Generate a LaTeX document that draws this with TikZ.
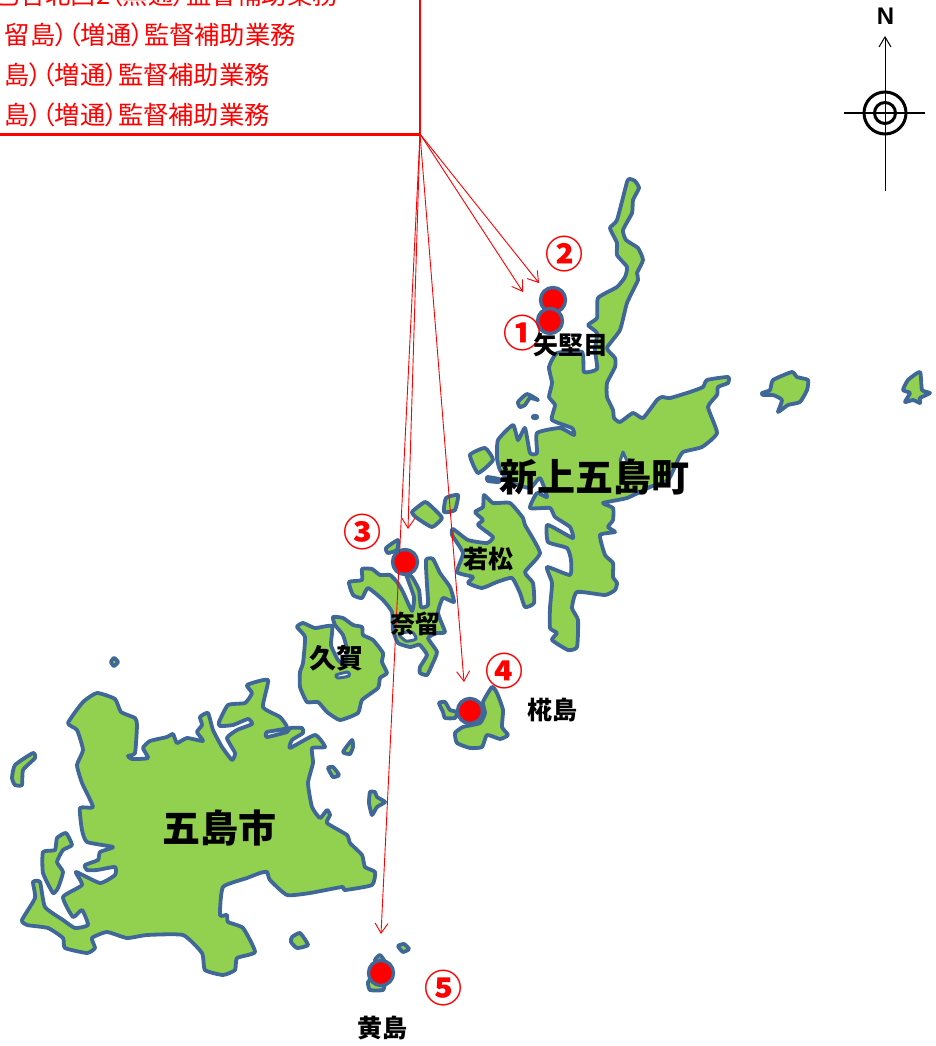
\documentclass[tikz,border=0pt]{standalone}
\usepackage{fontspec}
\usetikzlibrary{arrows.meta}
\setmainfont{Noto Sans CJK JP}
\newfontfamily\palfont[RawFeature=+palt]{Noto Sans CJK JP}
\newfontfamily\latinbold{Liberation Sans Bold}
\definecolor{land}{HTML}{92D050}
\definecolor{coast}{HTML}{3F6797}
\tikzset{
  island/.style={draw=coast,fill=land,line width=3.8pt,line join=round},
  lagoon/.style={draw=coast,fill=white,line width=3pt,line join=round},
  site/.style={circle,draw=coast,fill=red,line width=3.4pt,minimum size=25pt,inner sep=0pt},
  ptr/.style={draw=red,line width=0.9pt,-{Straight Barb[length=10pt,width=13pt]}},
  redline/.style={draw=red,line width=2.4pt},
  redtext/.style={text=red,font=\fontsize{25.3}{26}\palfont,anchor=base east,inner sep=0pt},
  place/.style={text=black,font=\fontsize{25}{26}\bfseries,inner sep=0pt},
  bigplace/.style={text=black,font=\fontsize{38}{40}\bfseries,inner sep=0pt},
  num/.style={text=red,font=\fontsize{38}{39}\bfseries,inner sep=0pt}
}
\newcommand{\isl}[1]{\path[island] plot[smooth cycle,tension=.3] coordinates {#1};}
\begin{document}
\begin{tikzpicture}[x=1pt,y=-1pt]
\useasboundingbox (0,0) rectangle (936,1046);
\clip (0,0) rectangle (936,1046);
% Shin-Kamigoto
\isl{(630,179)(635,181)(639,188)(633,200)(632,213)(623,230)(626,240)(638,248)(643,260)(637,273)(638,280)(627,303)(620,330)(607,348)(615,358)(615,367)(607,383)(607,397)(613,410)(614,418)(620,422)(633,413)(643,418)(657,400)(662,397)(670,398)(690,392)(703,387)(707,380)(728,377)(728,383)(718,387)(717,395)(708,407)(717,433)(702,447)(683,452)(677,462)(668,480)(650,487)(627,498)(603,503)(613,508)(613,520)(608,527)(615,532)(600,535)(605,555)(613,563)(613,577)(617,583)(615,590)(605,595)(577,592)(572,608)(578,620)(577,647)(568,650)(552,640)(557,633)(550,628)(550,608)(552,583)(547,567)(570,575)(571,560)(567,548)(548,542)(547,525)(558,530)(573,538)(570,527)(555,517)(550,508)(530,508)(537,493)(547,497)(540,478)(530,488)(510,482)(500,470)(497,458)(498,440)(513,425)(518,440)(525,428)(530,453)(537,453)(537,433)(560,428)(574,435)(572,428)(552,420)(555,405)(549,397)(552,383)(549,367)(557,353)(582,352)(584,372)(597,369)(595,350)(597,333)(588,325)(597,318)(598,298)(617,287)(625,277)(627,267)(617,255)(617,243)(610,228)(617,220)(627,182)}
\path[lagoon] (620,461) -- (623,452) -- (627,461);
\isl{(518,402)(527,394)(538,400)(530,398)(525,405)(520,407)}
\path[draw=coast,fill=coast] (535,417) ellipse (4 and 3);
\isl{(470,455)(485,448)(493,460)(478,473)}
\isl{(487,477)(499,479)(499,482)(488,481)}
% east islands
\isl{(762,393)(770,390)(773,380)(792,372)(797,377)(808,380)(807,390)(800,402)(788,405)(778,412)(782,400)(773,395)(763,395)}
\isl{(920,372)(922,390)(930,393)(920,398)(920,403)(913,400)(905,402)(910,393)(903,390)(908,380)}
% Wakamatsu
\isl{(484,495)(493,503)(510,503)(523,518)(525,525)(540,553)(525,572)(533,583)(534,603)(525,607)(520,593)(512,578)(497,582)(482,588)(468,583)(473,577)(457,572)(463,553)(452,535)(453,529)(468,540)(487,543)(493,537)(478,525)(483,520)(475,512)(483,507)}
\isl{(412,512)(425,502)(433,508)(442,518)(432,527)(417,518)}
\isl{(446,498)(458,495)(455,510)(444,512)}
\isl{(386,548)(398,540)(397,550)(388,553)}
% Naru
\isl{(349,582)(362,580)(362,569)(372,569)(380,575)(390,575)(397,582)(403,592)(412,611)(414,597)(406,574)(412,577)(419,590)(421,607)(428,605)(427,585)(426,560)(433,559)(440,573)(450,587)(454,602)(443,598)(438,613)(445,632)(437,633)(428,638)(437,652)(432,665)(427,675)(420,673)(420,667)(427,655)(420,645)(417,645)(410,647)(398,643)(393,630)(392,612)(383,600)(368,588)(362,598)(353,595)}
\path[lagoon] plot[smooth cycle,tension=.4] coordinates {(399,634)(412,632)(416,639)(406,641)};
% Kuga
\isl{(297,627)(303,623)(315,628)(332,626)(331,645)(338,660)(345,665)(347,650)(343,635)(335,625)(333,617)(343,618)(353,625)(362,627)(363,635)(373,640)(383,653)(382,662)(387,673)(380,678)(378,688)(362,700)(358,713)(340,720)(327,712)(318,702)(307,702)(300,687)(300,672)(303,663)(305,637)}
\path[lagoon] plot[smooth cycle,tension=.4] coordinates {(336,675)(348,672)(349,676)(338,678)};
% Kabashima
\isl{(439,703)(445,702)(450,710)(457,712)(455,718)(445,718)(443,712)}
\isl{(492,687)(497,693)(503,710)(502,727)(508,735)(500,739)(487,735)(482,747)(470,748)(457,743)(455,733)(463,727)(480,723)(485,713)(483,702)}
% Goto
\isl{(97,693)(115,699)(121,712)(135,718)(137,725)(135,753)(128,756)(132,759)(148,758)(143,748)(150,741)(167,737)(173,734)(177,743)(187,738)(203,741)(197,732)(202,725)(200,717)(208,713)(213,730)(222,747)(232,760)(235,753)(227,738)(237,730)(252,724)(248,719)(233,725)(220,726)(219,722)(228,705)(245,703)(252,693)(247,685)(268,680)(263,707)(280,717)(287,728)(267,732)(267,737)(287,732)(290,728)(302,728)(303,733)(292,740)(290,748)(315,735)(325,747)(312,748)(313,763)(308,783)(312,807)(320,818)(327,810)(330,815)(327,823)(347,835)(350,843)(362,855)(365,867)(375,872)(372,885)(345,890)(342,887)(310,893)(287,895)(270,880)(267,872)(260,873)(247,878)(223,887)(220,915)(227,915)(228,922)(243,928)(255,952)(237,958)(235,970)(223,975)(205,970)(202,953)(183,935)(147,935)(127,938)(107,932)(92,938)(95,948)(87,953)(65,948)(63,938)(48,928)(27,925)(22,920)(35,898)(33,882)(40,882)(45,907)(63,920)(75,928)(88,925)(82,910)(73,917)(63,897)(82,885)(76,872)(100,883)(115,875)(115,867)(97,870)(87,870)(85,865)(98,860)(100,852)(113,847)(87,842)(82,830)(80,808)(93,807)(82,783)(77,765)(83,750)(77,730)(68,723)(83,702)}
\isl{(43,852)(55,850)(57,838)(66,833)(72,845)(63,850)(57,862)(63,872)(58,888)(53,893)(43,873)}
\isl{(15,765)(33,753)(35,758)(23,770)(22,785)(15,785)(12,778)}
\isl{(111,662)(114,658)(118,662)(114,666)}
\isl{(343,752)(352,740)(353,747)(350,754)}
\isl{(328,768)(333,767)(339,775)(333,777)}
\isl{(370,792)(375,792)(377,797)(385,802)(377,807)(372,815)(369,803)}
\isl{(292,937)(300,933)(308,945)(297,948)(291,942)}
\isl{(375,960)(380,955)(385,962)(387,975)(385,983)(383,990)(370,990)(368,982)(375,975)}
\isl{(398,946)(404,944)(409,949)(403,952)}
% red box
\draw[redline] (420,-2) -- (420,134.5) -- (-2,134.5);
\node[redtext] (l1) at (338,5) {巴合北西2（黒通）監督補助業務};
\node[redtext] (l2) at (296,44.5) {留島）（増通）監督補助業務};
\node[redtext] (l3) at (270,84.5) {島）（増通）監督補助業務};
\node[redtext] (l4) at (270,124.5) {島）（増通）監督補助業務};
% sites
\node[site] (s2) at (553,300) {};
\node[site] (s1) at (550,321) {};
\node[site] (s3) at (405,562) {};
\node[site] (s4) at (470,711) {};
\node[site] (s5) at (381,973) {};
% pointers
\coordinate (hub) at (420,134);
\coordinate (e1) at (523,292);
\coordinate (e2) at (539,283);
\coordinate (e3) at (408,529);
\coordinate (e4) at (464,682);
\coordinate (e5) at (381,934);
\draw[ptr] (hub) -- (e1);
\draw[ptr] (hub) -- (e2);
\draw[ptr] (hub) -- (e3);
\draw[ptr] (hub) -- (e4);
\draw[ptr] (hub) -- (e5);
% labels
\node[num] (n1) at (522,333) {①};
\node[num] (n2) at (564,254) {②};
\node[num] (n3) at (362,532) {③};
\node[num] (n4) at (504,671) {④};
\node[num] (n5) at (443,988) {⑤};
\node[place] (yag) at (571,345) {矢堅目};
\node[bigplace] (shin) at (594.5,477) {新上五島町};
\node[place] (waka) at (488,559) {若松};
\node[place] (naru) at (415,624) {奈留};
\node[place,font=\fontsize{27}{28}\bfseries] (kuga) at (336.5,658) {久賀};
\node[place] (kaba) at (552,710) {椛島};
\node[bigplace] (goto) at (219.5,828) {五島市};
\node[place] (kuro) at (382,1028) {黄島};
% compass
\coordinate (ct) at (885,36);
\coordinate (cb) at (885,191);
\coordinate (cl) at (844,113);
\coordinate (cr) at (925,113);
\coordinate (cc) at (885,113);
\draw[black,line width=1pt,-{Straight Barb[length=10pt,width=12pt]}] (cb) -- (ct);
\draw[black,line width=2pt] (cl) -- (cr);
\draw[black,line width=3pt] (cc) circle (21);
\draw[black,line width=3pt] (cc) circle (10.5);
\node[font=\fontsize{24}{25}\latinbold,inner sep=0pt] (north) at (885.5,16) {N};
\end{tikzpicture}
\end{document}
